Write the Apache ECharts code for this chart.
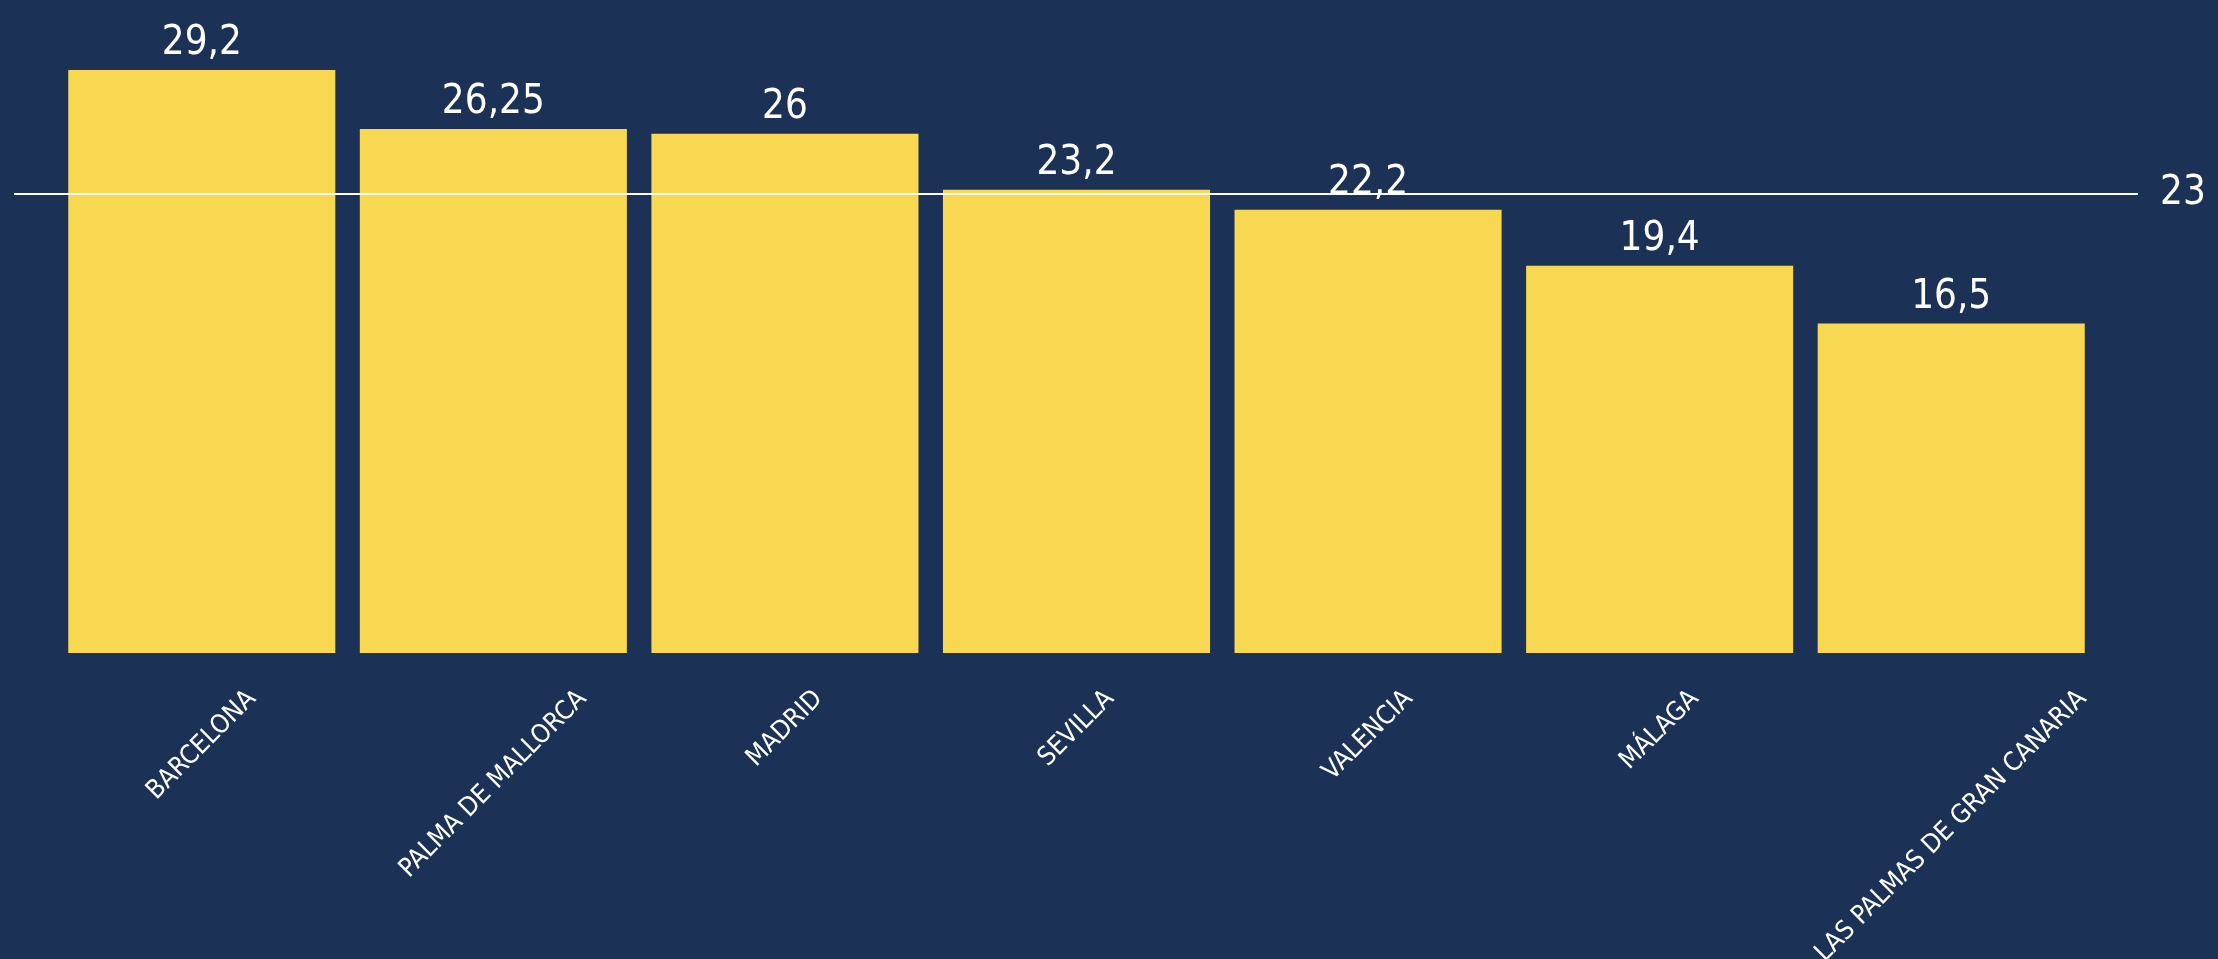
<!DOCTYPE html>
<html>
<head>
<meta charset="utf-8">
<script src="https://cdn.jsdelivr.net/npm/echarts@6/dist/echarts.min.js"></script>
<style>
html,body{margin:0;padding:0;background:#1b3256;}
#chart{width:2218px;height:959px;}
</style>
</head>
<body>
<div id="chart"></div>
<script>
const categories = ['BARCELONA', 'PALMA DE MALLORCA', 'MADRID', 'SEVILLA', 'VALENCIA', 'MÁLAGA', 'LAS PALMAS DE GRAN CANARIA'];
const values = [29.2, 26.25, 26, 23.2, 22.2, 19.4, 16.5];
const referenceValue = 23;

const FONT = "'DejaVu Sans Condensed', 'Liberation Sans Narrow', sans-serif";
const AXIS_FONT_SIZE = 26;
const fmt = v => String(v).replace('.', ',');

// Measure each category label so the rotated labels can be centred under
// their bar with their upper ends aligned (as in the reference).
const ctx = document.createElement('canvas').getContext('2d');
ctx.font = AXIS_FONT_SIZE + 'px ' + FONT;
const rich = {t: {fontSize: AXIS_FONT_SIZE, fontFamily: FONT, color: '#ffffff'}};
categories.forEach((c, i) => {
  const w = ctx.measureText(c).width;
  rich['s' + i] = {height: w / 2, lineHeight: w / 2, fontSize: 2};
  rich['r' + i] = {width: w / 2, fontSize: AXIS_FONT_SIZE, fontFamily: FONT};
});

const chart = echarts.init(document.getElementById('chart'), null, {renderer: 'canvas'});
chart.setOption({
  backgroundColor: '#1b3256',
  animation: false,
  grid: [
    {left: 56, right: 121, top: 54, bottom: 306, outerBoundsMode: 'none', containLabel: false},
    {left: 14, right: 80, top: 54, bottom: 306, outerBoundsMode: 'none', containLabel: false}
  ],
  xAxis: [
    {
      type: 'category', data: categories, gridIndex: 0,
      axisLine: {show: false}, axisTick: {show: false},
      axisLabel: {
        rotate: 45, align: 'center', verticalAlign: 'middle', margin: 42,
        color: '#ffffff', fontSize: AXIS_FONT_SIZE, fontFamily: FONT, interval: 0,
        rich: rich,
        formatter: (v, i) => '{s' + i + '| }\n{t|' + v + '}{r' + i + '| }'
      }
    },
    {type: 'value', gridIndex: 1, min: 0, max: 1, show: false}
  ],
  yAxis: [
    {type: 'value', gridIndex: 0, min: 0, max: 30, show: false},
    {type: 'value', gridIndex: 1, min: 0, max: 30, show: false}
  ],
  series: [
    {
      type: 'bar', data: values, xAxisIndex: 0, yAxisIndex: 0,
      barCategoryGap: '8.4%',
      itemStyle: {color: '#f8d751'},
      label: {
        show: true, position: 'top', distance: 6,
        color: '#ffffff', fontSize: 40, fontFamily: FONT,
        formatter: p => fmt(p.value)
      }
    },
    {
      type: 'line', data: [], xAxisIndex: 1, yAxisIndex: 1,
      markLine: {
        silent: true, symbol: 'none', z: 10,
        lineStyle: {color: '#ffffff', width: 2, type: 'solid'},
        label: {
          show: true, position: 'end', distance: 22,
          color: '#ffffff', fontSize: 40, fontFamily: FONT,
          formatter: () => fmt(referenceValue)
        },
        data: [{yAxis: referenceValue}]
      }
    }
  ]
});
</script>
</body>
</html>
